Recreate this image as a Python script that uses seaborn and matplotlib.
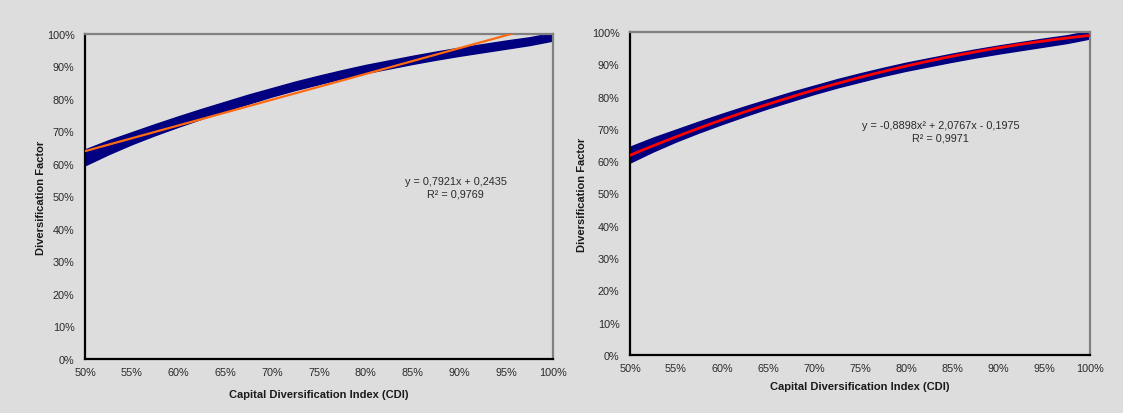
import numpy as np
import pandas as pd
import matplotlib
matplotlib.use("Agg")
import matplotlib.pyplot as plt
from matplotlib.ticker import PercentFormatter
import seaborn as sns

# Capital Diversification Index vs Diversification Factor (observed band)
cdi = [0.500, 0.525, 0.550, 0.575, 0.600, 0.625, 0.650, 0.675, 0.700, 0.725,
       0.750, 0.775, 0.800, 0.825, 0.850, 0.875, 0.900, 0.925, 0.950, 0.975, 1.000]
df_low = [0.596, 0.630, 0.661, 0.689, 0.715, 0.740, 0.764, 0.786, 0.808, 0.828,
          0.846, 0.864, 0.880, 0.894, 0.908, 0.921, 0.933, 0.944, 0.955, 0.966, 0.980]
df_high = [0.645, 0.673, 0.698, 0.723, 0.747, 0.770, 0.792, 0.814, 0.834, 0.854,
           0.872, 0.889, 0.905, 0.919, 0.933, 0.946, 0.958, 0.969, 0.980, 0.990, 1.004]

# Trendline coefficients
lin_coef = [0.7921, 0.2435]
quad_coef = [-0.8898, 2.0767, -0.1975]
lin_label = ["y = 0,7921x + 0,2435", "R² = 0,9769"]
quad_label = ["y = -0,8898x² + 2,0767x - 0,1975", "R² = 0,9971"]

x_ticks = [0.50, 0.55, 0.60, 0.65, 0.70, 0.75, 0.80, 0.85, 0.90, 0.95, 1.00]
y_ticks = [0.0, 0.1, 0.2, 0.3, 0.4, 0.5, 0.6, 0.7, 0.8, 0.9, 1.0]

BG = "#DDDDDD"
NAVY = "#000080"

sns.set_style("white")
plt.rcParams["font.family"] = ["Liberation Sans", "DejaVu Sans"]

band = pd.DataFrame({"cdi": cdi, "low": df_low, "high": df_high})
xs = np.linspace(0.5, 1.0, 200)
lin_df = pd.DataFrame({"cdi": xs, "fit": np.polyval(lin_coef, xs)})
quad_df = pd.DataFrame({"cdi": xs, "fit": np.polyval(quad_coef, xs)})

W, H = 1123, 414
fig = plt.figure(figsize=(W / 100, H / 100), dpi=100, facecolor=BG)
ax1 = fig.add_axes([85 / W, 1 - 360 / H, 468 / W, 325 / H])
ax2 = fig.add_axes([630 / W, 1 - 356 / H, 460 / W, 323 / H])


def style_axes(ax, ylab_x, xlab_y):
    ax.set_facecolor(BG)
    ax.set_xlim(0.5, 1.0)
    ax.set_ylim(0.0, 1.0)
    ax.set_xticks(x_ticks)
    ax.set_yticks(y_ticks)
    ax.xaxis.set_major_formatter(PercentFormatter(1.0, decimals=0))
    ax.yaxis.set_major_formatter(PercentFormatter(1.0, decimals=0))
    for s in ("left", "bottom"):
        ax.spines[s].set_color("black")
        ax.spines[s].set_linewidth(1.6)
    for s in ("top", "right"):
        ax.spines[s].set_color("#808080")
        ax.spines[s].set_linewidth(1.6)
        ax.spines[s].set_visible(True)
    ax.tick_params(axis="both", direction="out", length=3.5, width=1.2,
                   color="black", labelsize=7.8, labelcolor="#2a2a2a")
    ax.tick_params(axis="y", pad=4)
    ax.tick_params(axis="x", pad=2.5)
    ax.set_xlabel("Capital Diversification Index (CDI)", fontsize=8,
                  fontweight="bold", color="#1a1a1a")
    ax.set_ylabel("Diversification Factor", fontsize=8,
                  fontweight="bold", color="#1a1a1a")
    ax.yaxis.set_label_coords(ylab_x, 0.5)
    ax.xaxis.set_label_coords(0.5, xlab_y)
    ax.xaxis.label.set_va("top")
    ax.grid(False)


for ax in (ax1, ax2):
    ax.fill_between(band["cdi"], band["low"], band["high"], color=NAVY,
                    linewidth=1.0, edgecolor=NAVY, zorder=2)

sns.lineplot(data=lin_df, x="cdi", y="fit", ax=ax1, color="#FF6A10",
             linewidth=1.6, zorder=3)
sns.lineplot(data=quad_df, x="cdi", y="fit", ax=ax2, color="#FF0000",
             linewidth=2.0, zorder=3)

style_axes(ax1, -0.083, -0.092)
style_axes(ax2, -0.0935, -0.080)

ax1.text(0.792, 0.548, lin_label[0], transform=ax1.transAxes, ha="center",
         va="center", fontsize=7.8, color="#2a2a2a")
ax1.text(0.792, 0.51, lin_label[1], transform=ax1.transAxes, ha="center",
         va="center", fontsize=7.8, color="#2a2a2a")
ax2.text(0.675, 0.713, quad_label[0], transform=ax2.transAxes, ha="center",
         va="center", fontsize=7.8, color="#2a2a2a")
ax2.text(0.675, 0.672, quad_label[1], transform=ax2.transAxes, ha="center",
         va="center", fontsize=7.8, color="#2a2a2a")

fig.savefig("out.png", dpi=100, facecolor=BG)
